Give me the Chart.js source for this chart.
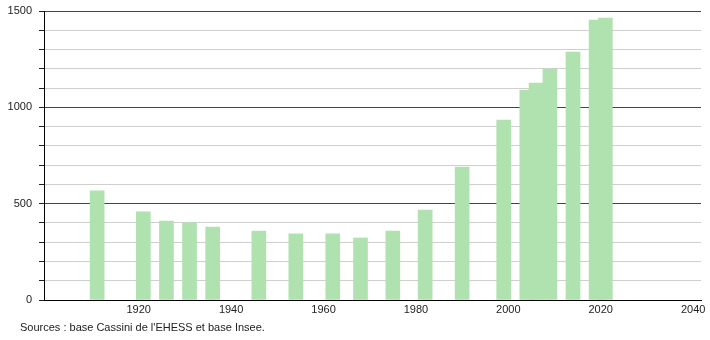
<!DOCTYPE html>
<html>
<head>
<meta charset="utf-8">
<script src="https://cdn.jsdelivr.net/npm/chart.js@4.4.1/dist/chart.umd.min.js"></script>
<style>
  html, body { margin: 0; padding: 0; background: #fff; }
  #wrap { position: relative; width: 710px; height: 340px; }
  #source {
    position: absolute; left: 20px; top: 321px;
    font: 11px "Liberation Sans", Arial, sans-serif; color: #222;
  }
</style>
</head>
<body>
<div id="wrap">
  <canvas id="popChart" width="710" height="340"></canvas>
  <div id="source">Sources : base Cassini de l'EHESS et base Insee.</div>
</div>
<script>
// Recensements : année et population
const years = [1911, 1921, 1926, 1931, 1936, 1946, 1954, 1962, 1968, 1975, 1982, 1990, 1999, 2004, 2006, 2009, 2014, 2019, 2021];
const population = [566, 457, 410, 400, 379, 358, 343, 343, 322, 358, 467, 690, 934, 1090, 1126, 1199, 1287, 1453, 1463];

const xTicks = [1920, 1940, 1960, 1980, 2000, 2020, 2040];
const yTicks = [0, 100, 200, 300, 400, 500, 600, 700, 800, 900, 1000, 1100, 1200, 1300, 1400, 1500];
const yLabelled = [0, 500, 1000, 1500];

const points = years.map((y, i) => ({ x: y, y: population[i] }));
const font = { family: '"Liberation Sans", Arial, sans-serif', size: 11 };

new Chart(document.getElementById('popChart').getContext('2d'), {
    type: 'bar',
    data: {
        datasets: [{
            data: points,
            backgroundColor: '#b0e2b0',
            borderWidth: 0,
            barThickness: 14
        }]
    },
    options: {
        responsive: false,
        animation: false,
        devicePixelRatio: 1,
        layout: { padding: { top: 11, right: 9, left: 0, bottom: 0 } },
        plugins: { legend: { display: false }, tooltip: { enabled: false } },
        scales: {
            x: {
                type: 'linear',
                offset: false,
                min: 1899.5,
                max: 2041.7,
                afterBuildTicks: scale => { scale.ticks = xTicks.map(v => ({ value: v })); },
                afterFit: scale => { scale.height = 40; scale.paddingLeft = 0; scale.paddingRight = 0; },
                grid: { display: false, drawTicks: false, offset: false },
                border: { color: '#000', width: 1 },
                ticks: { color: '#222', font: font, padding: 3, maxRotation: 0, autoSkip: false,
                         callback: v => String(v) }
            },
            y: {
                min: 0,
                max: 1500,
                afterBuildTicks: scale => { scale.ticks = yTicks.map(v => ({ value: v })); },
                afterFit: scale => { scale.width = 44; scale.paddingTop = 0; scale.paddingBottom = 0; },
                grid: {
                    color: ctx => yLabelled.includes(ctx.tick.value) ? '#444' : '#cfcfcf',
                    tickColor: '#222',
                    tickLength: 5
                },
                border: { color: '#000', width: 1 },
                ticks: { color: '#222', font: font, padding: 7, autoSkip: false,
                         callback: v => yLabelled.includes(v) ? String(v) : '' }
            }
        }
    }
});
</script>
</body>
</html>
